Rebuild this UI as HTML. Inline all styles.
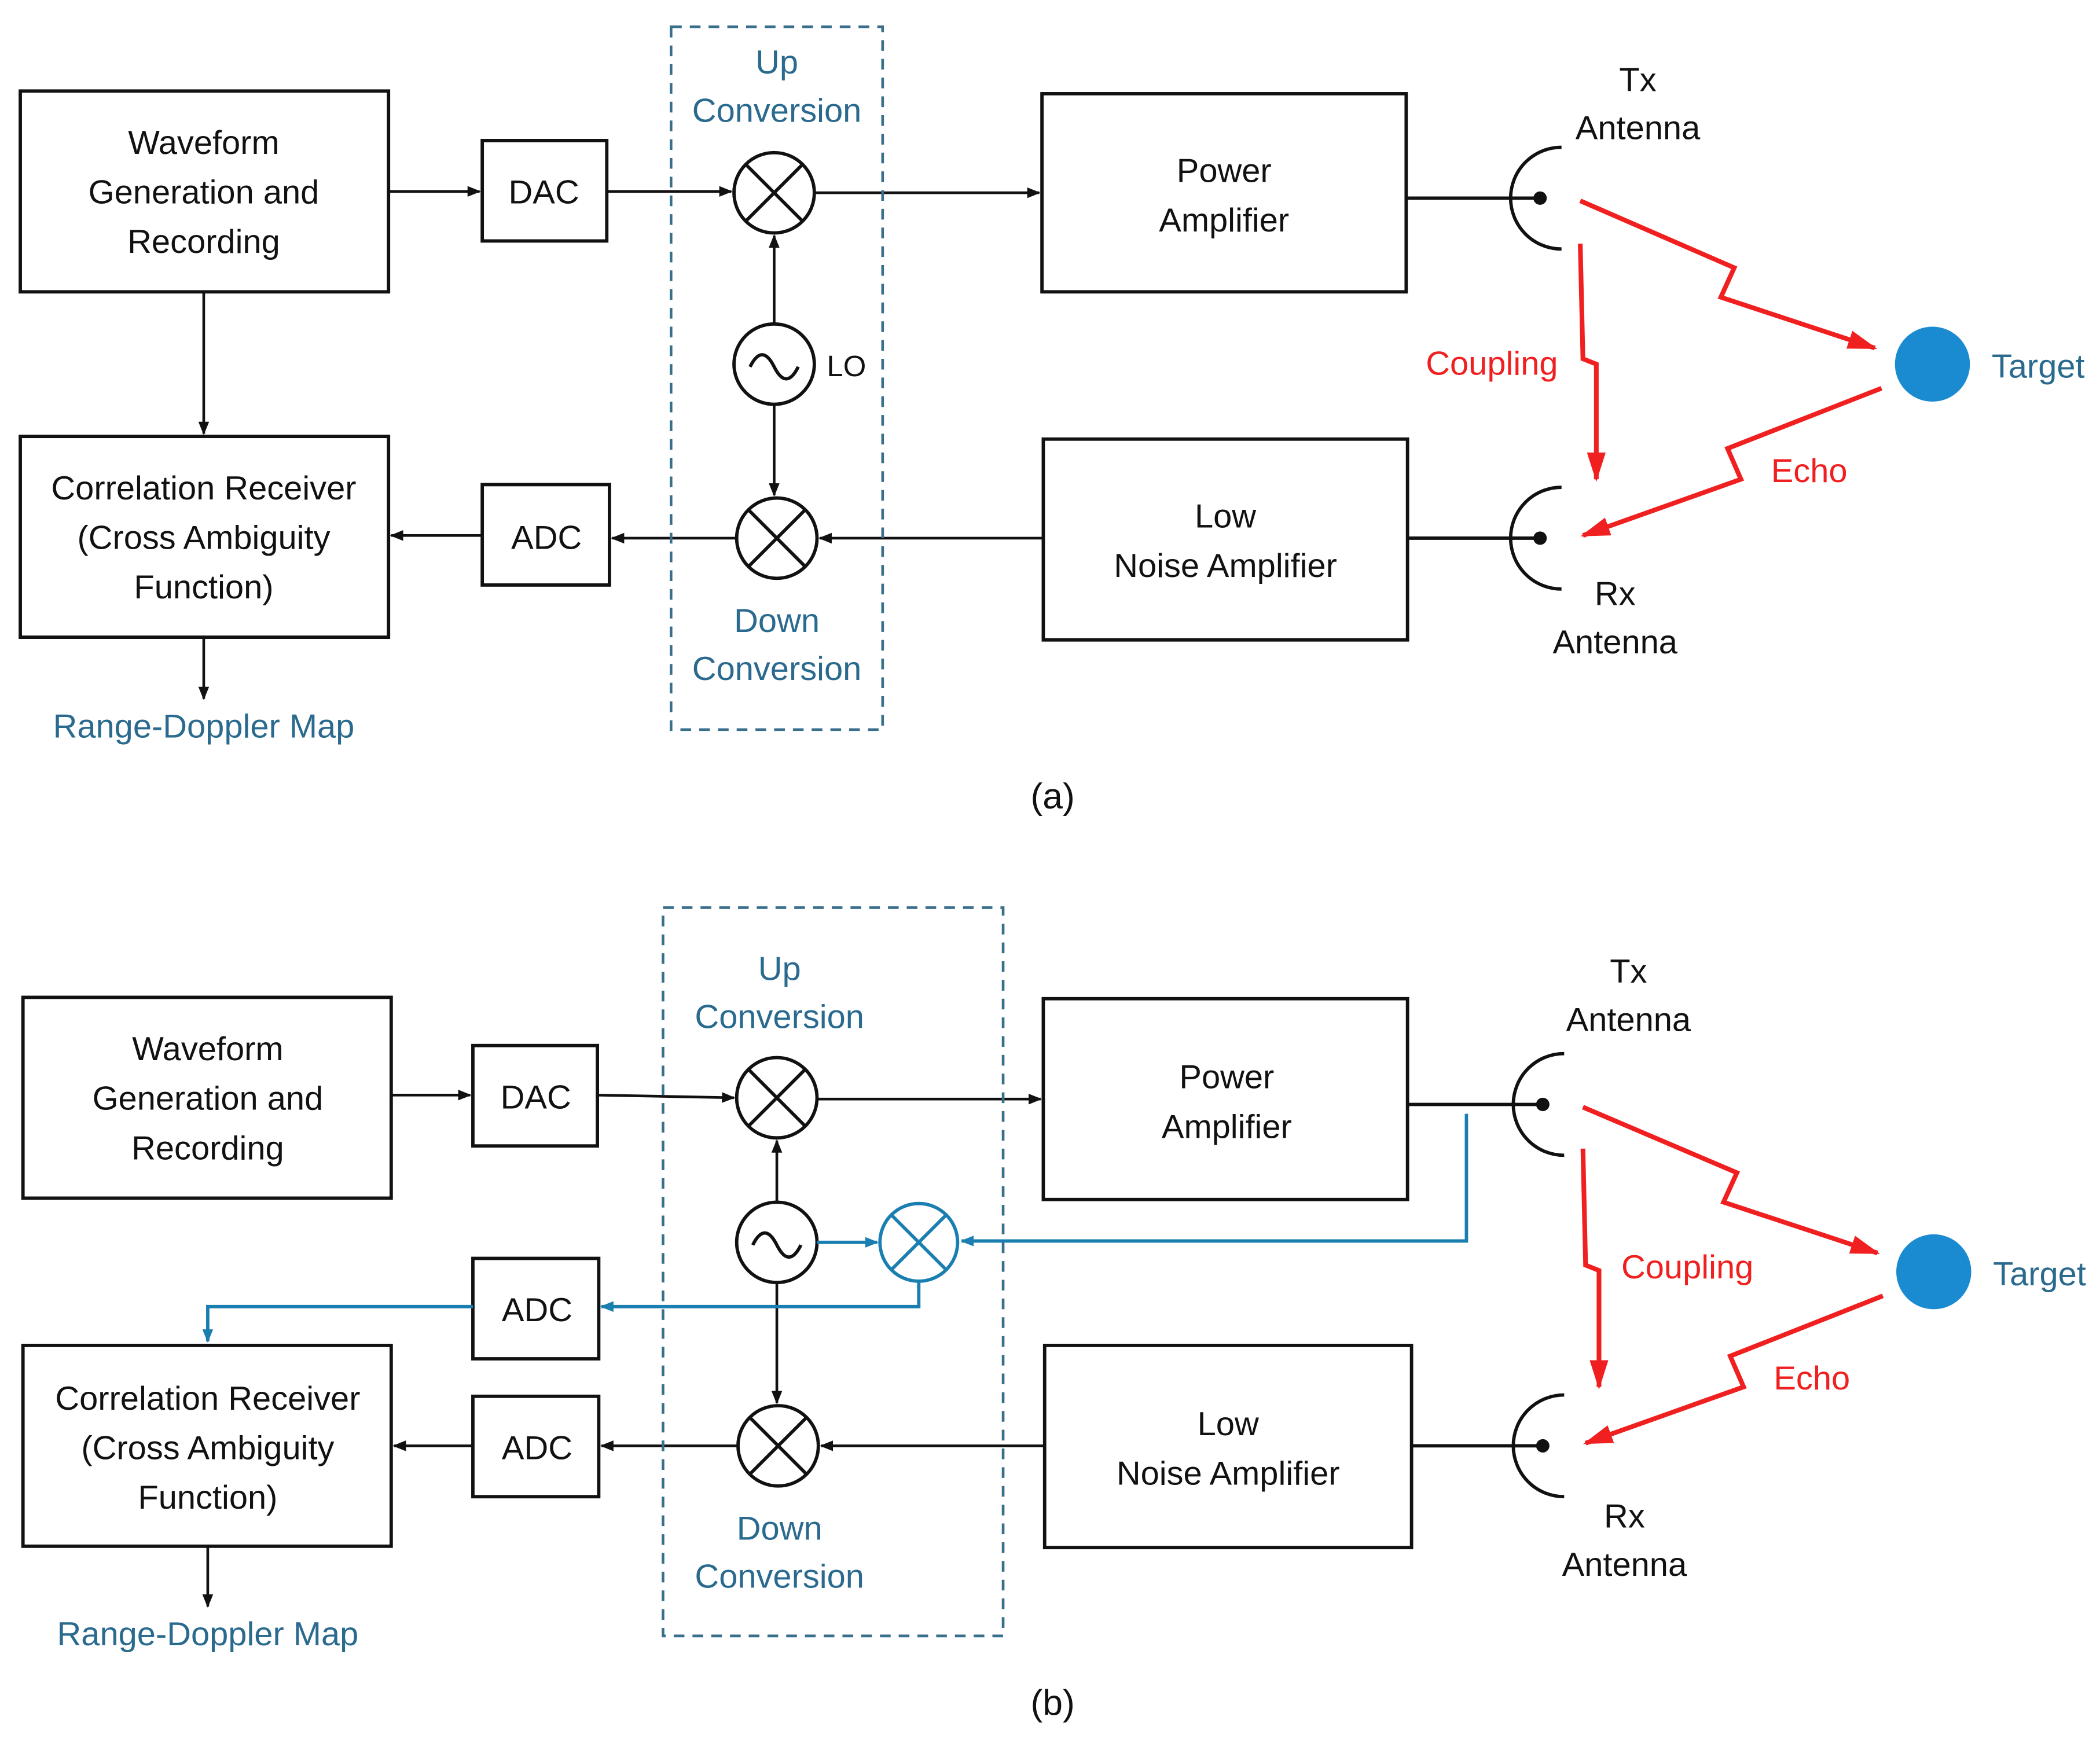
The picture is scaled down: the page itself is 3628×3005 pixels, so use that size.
<!DOCTYPE html>
<html><head><meta charset="utf-8"><style>
html,body{margin:0;padding:0;background:#fff;}
svg{display:block;}
text{font-family:"Liberation Sans",sans-serif;}
</style></head><body>
<svg width="3628" height="3005" viewBox="0 0 1568 1299" xmlns="http://www.w3.org/2000/svg">
<defs>
<marker id="ak" markerWidth="10" markerHeight="10" refX="9" refY="5" orient="auto" markerUnits="userSpaceOnUse"><path d="M0,1 L10,5 L0,9 z" fill="#111"/></marker>
<marker id="ab" markerWidth="10" markerHeight="10" refX="9" refY="5" orient="auto" markerUnits="userSpaceOnUse"><path d="M0,1 L10,5 L0,9 z" fill="#1a7fb0"/></marker>
<marker id="ar" markerWidth="22" markerHeight="16" refX="20" refY="8" orient="auto" markerUnits="userSpaceOnUse"><path d="M0,1 L22,8 L0,15 z" fill="#f02020"/></marker>
</defs>
<g fill="none" stroke="#111" stroke-width="2.5">
<!-- (a) -->
<rect x="15" y="68" width="275" height="150"/>
<rect x="360" y="105" width="93" height="75"/>
<rect x="778" y="70" width="272" height="148"/>
<rect x="779" y="328" width="272" height="150"/>
<rect x="15" y="326" width="275" height="150"/>
<rect x="360" y="362" width="95" height="75"/>
<circle cx="578" cy="144" r="30"/><path d="M557,123 L599,165 M599,123 L557,165"/>
<circle cx="578" cy="272" r="30"/><path d="M560,274 q9,-18 18,0 q9,18 18,0"/>
<circle cx="580" cy="402" r="30"/><path d="M559,381 L601,423 M601,381 L559,423"/>
<path d="M1166,110 A38,38 0 0 0 1166,186"/><path d="M1050,148 L1150,148"/>
<path d="M1166,364 A38,38 0 0 0 1166,440"/><path d="M1051,402 L1150,402"/>
</g>
<g stroke="#111" stroke-width="2" fill="none">
<path d="M290,143 L358,143" marker-end="url(#ak)"/>
<path d="M453,143 L546,143" marker-end="url(#ak)"/>
<path d="M608,144 L776,144" marker-end="url(#ak)"/>
<path d="M578,242 L578,176" marker-end="url(#ak)"/>
<path d="M578,302 L578,370" marker-end="url(#ak)"/>
<path d="M779,402 L612,402" marker-end="url(#ak)"/>
<path d="M550,402 L457,402" marker-end="url(#ak)"/>
<path d="M360,400 L292,400" marker-end="url(#ak)"/>
<path d="M152,218 L152,324" marker-end="url(#ak)"/>
<path d="M152,476 L152,522" marker-end="url(#ak)"/>
</g>
<circle cx="1150" cy="148" r="5" fill="#111"/><circle cx="1150" cy="402" r="5" fill="#111"/>
<rect x="501" y="20" width="158" height="525" fill="none" stroke="#3a6f8c" stroke-width="2" stroke-dasharray="8,6"/>
<circle cx="1443" cy="272" r="28" fill="#1b8bd1"/>
<g stroke="#f02020" stroke-width="3.5" fill="none">
<path d="M1180,150 L1295,200 L1285,222 L1400,260" marker-end="url(#ar)"/>
<path d="M1180,182 L1182,268 L1192,272 L1192,358" marker-end="url(#ar)"/>
<path d="M1405,290 L1290,335 L1300,358 L1182,400" marker-end="url(#ar)"/>
</g>
<g font-size="25" text-anchor="middle" fill="#111">
<text x="152" y="115">Waveform</text><text x="152" y="152">Generation and</text><text x="152" y="189">Recording</text>
<text x="406" y="152">DAC</text><text x="408" y="410">ADC</text>
<text x="914" y="136">Power</text><text x="914" y="173">Amplifier</text>
<text x="915" y="394">Low</text><text x="915" y="431">Noise Amplifier</text>
<text x="152" y="373">Correlation Receiver</text><text x="152" y="410">(Cross Ambiguity</text><text x="152" y="447">Function)</text>
<text x="1223" y="68">Tx</text><text x="1223" y="104">Antenna</text>
<text x="1206" y="452">Rx</text><text x="1206" y="488">Antenna</text>
<text x="632" y="281" font-size="22">LO</text>
</g>
<g font-size="25" text-anchor="middle" fill="#2a6a8e">
<text x="580" y="55">Up</text><text x="580" y="91">Conversion</text>
<text x="580" y="472">Down</text><text x="580" y="508">Conversion</text>
<text x="152" y="551">Range-Doppler Map</text>
<text x="1522" y="282">Target</text>
</g>
<g font-size="25" fill="#f02020" text-anchor="middle">
<text x="1114" y="280">Coupling</text><text x="1351" y="360">Echo</text>
</g>
<text x="786" y="604" font-size="27" text-anchor="middle" font-family="Liberation Serif, serif" fill="#111">(a)</text>

<!-- (b) -->
<g fill="none" stroke="#111" stroke-width="2.5">
<rect x="17" y="745" width="275" height="150"/>
<rect x="353" y="781" width="93" height="75"/>
<rect x="779" y="746" width="272" height="150"/>
<rect x="780" y="1005" width="274" height="151"/>
<rect x="17" y="1005" width="275" height="150"/>
<rect x="353" y="940" width="94" height="75"/>
<rect x="353" y="1043" width="94" height="75"/>
<circle cx="580" cy="820" r="30"/><path d="M559,799 L601,841 M601,799 L559,841"/>
<circle cx="580" cy="928" r="30"/><path d="M562,930 q9,-18 18,0 q9,18 18,0"/>
<circle cx="581" cy="1080" r="30"/><path d="M560,1059 L602,1101 M602,1059 L560,1101"/>
<path d="M1168,787 A38,38 0 0 0 1168,863"/><path d="M1051,825 L1152,825"/>
<path d="M1168,1042 A38,38 0 0 0 1168,1118"/><path d="M1054,1080 L1152,1080"/>
</g>
<g stroke="#1a7fb0" stroke-width="2.5" fill="none">
<circle cx="686" cy="928" r="29"/><path d="M665,907 L707,949 M707,907 L665,949"/>
</g>
<g stroke="#111" stroke-width="2" fill="none">
<path d="M292,818 L351,818" marker-end="url(#ak)"/>
<path d="M446,818 L548,820" marker-end="url(#ak)"/>
<path d="M610,821 L777,821" marker-end="url(#ak)"/>
<path d="M580,898 L580,852" marker-end="url(#ak)"/>
<path d="M580,958 L580,1048" marker-end="url(#ak)"/>
<path d="M780,1080 L613,1080" marker-end="url(#ak)"/>
<path d="M551,1080 L449,1080" marker-end="url(#ak)"/>
<path d="M353,1080 L294,1080" marker-end="url(#ak)"/>
<path d="M155,1155 L155,1200" marker-end="url(#ak)"/>
</g>
<g stroke="#1a7fb0" stroke-width="2.5" fill="none">
<path d="M610,928 L655,928" marker-end="url(#ab)"/>
<path d="M1095,832 L1095,927 L718,927" marker-end="url(#ab)"/>
<path d="M686,957 L686,976 L449,976" marker-end="url(#ab)"/>
<path d="M353,976 L155,976 L155,1002" marker-end="url(#ab)"/>
</g>
<circle cx="1152" cy="825" r="5" fill="#111"/><circle cx="1152" cy="1080" r="5" fill="#111"/>
<rect x="495" y="678" width="254" height="544" fill="none" stroke="#3a6f8c" stroke-width="2" stroke-dasharray="8,6"/>
<circle cx="1444" cy="950" r="28" fill="#1b8bd1"/>
<g stroke="#f02020" stroke-width="3.5" fill="none">
<path d="M1182,827 L1297,876 L1287,898 L1402,936" marker-end="url(#ar)"/>
<path d="M1182,858 L1184,945 L1194,949 L1194,1036" marker-end="url(#ar)"/>
<path d="M1406,968 L1292,1013 L1302,1036 L1184,1078" marker-end="url(#ar)"/>
</g>
<g font-size="25" text-anchor="middle" fill="#111">
<text x="155" y="792">Waveform</text><text x="155" y="829">Generation and</text><text x="155" y="866">Recording</text>
<text x="400" y="828">DAC</text><text x="401" y="987">ADC</text><text x="401" y="1090">ADC</text>
<text x="916" y="813">Power</text><text x="916" y="850">Amplifier</text>
<text x="917" y="1072">Low</text><text x="917" y="1109">Noise Amplifier</text>
<text x="155" y="1053">Correlation Receiver</text><text x="155" y="1090">(Cross Ambiguity</text><text x="155" y="1127">Function)</text>
<text x="1216" y="734">Tx</text><text x="1216" y="770">Antenna</text>
<text x="1213" y="1141">Rx</text><text x="1213" y="1177">Antenna</text>
</g>
<g font-size="25" text-anchor="middle" fill="#2a6a8e">
<text x="582" y="732">Up</text><text x="582" y="768">Conversion</text>
<text x="582" y="1150">Down</text><text x="582" y="1186">Conversion</text>
<text x="155" y="1229">Range-Doppler Map</text>
<text x="1523" y="960">Target</text>
</g>
<g font-size="25" fill="#f02020" text-anchor="middle">
<text x="1260" y="955">Coupling</text><text x="1353" y="1038">Echo</text>
</g>
<text x="786" y="1281" font-size="27" text-anchor="middle" font-family="Liberation Serif, serif" fill="#111">(b)</text>
</svg>
</body></html>
